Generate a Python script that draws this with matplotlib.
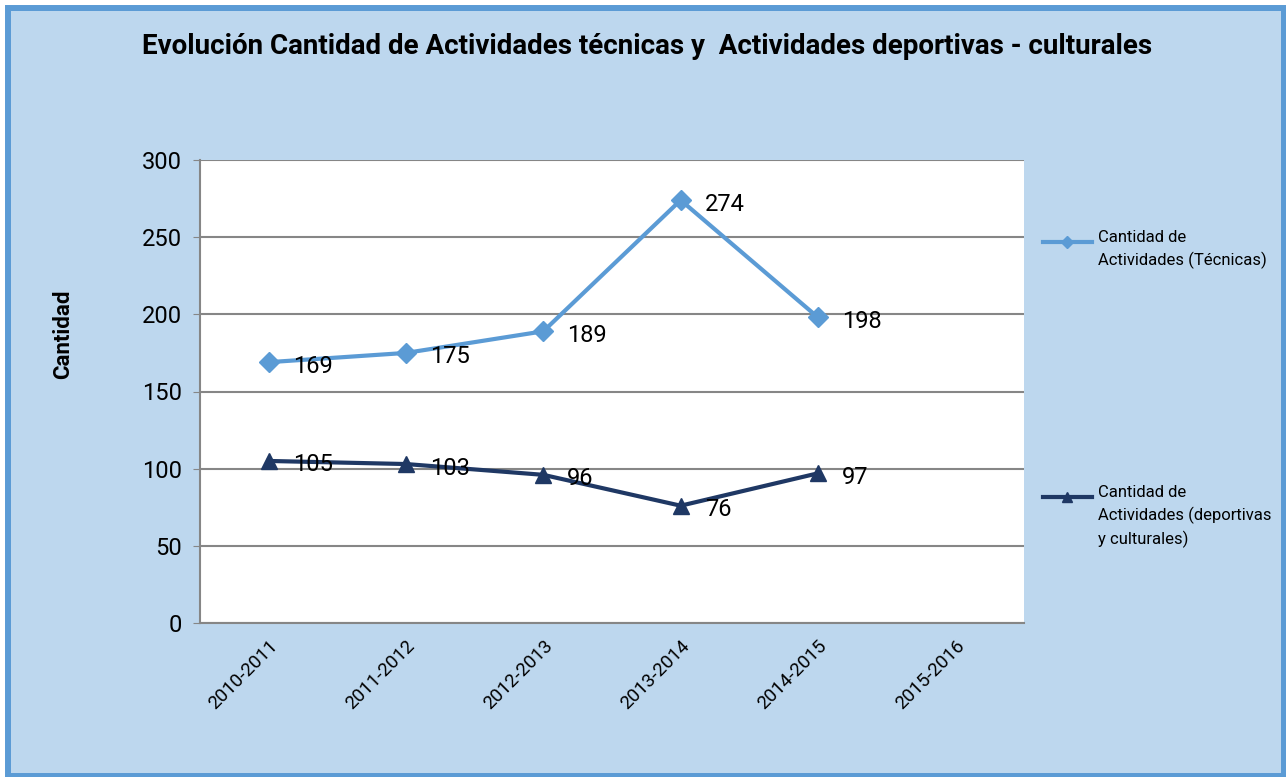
import matplotlib
matplotlib.use("Agg")
import matplotlib.pyplot as plt
from matplotlib import font_manager
from matplotlib.patches import Rectangle
from matplotlib.lines import Line2D
import numpy as np

periods = ["2010-2011", "2011-2012", "2012-2013", "2013-2014", "2014-2015", "2015-2016"]
tecnicas = [169, 175, 189, 274, 198, None]
deportivas = [105, 103, 96, 76, 97, None]
label_tec = "Cantidad de\nActividades (Técnicas)"
label_dep = "Cantidad de\nActividades (deportivas\ny culturales)"
title = "Evolución Cantidad de Actividades técnicas y  Actividades deportivas - culturales"

names = {f.name for f in font_manager.fontManager.ttflist}
narrow = "Liberation Sans Narrow" if "Liberation Sans Narrow" in names else "Roboto"
body = "Roboto"

c_light = "#5B9BD5"
c_dark = "#1F3864"

fig = plt.figure(figsize=(12.86, 7.77), dpi=100)
fig.patch.set_facecolor("white")
W, H = 1286, 777
fig.add_artist(Rectangle((8 / W, 1 / H), 1276 / W, 768 / H, transform=fig.transFigure,
                         facecolor="#BDD7EE", edgecolor=c_light, linewidth=4.3, zorder=0))

ax = fig.add_axes([200 / W, 1 - 623 / H, 824 / W, 463 / H])
ax.set_facecolor("white")

x = np.arange(len(periods))
y1 = np.array([np.nan if v is None else v for v in tecnicas], dtype=float)
y2 = np.array([np.nan if v is None else v for v in deportivas], dtype=float)

ax.plot(x, y1, color=c_light, lw=3, marker="D", ms=10, zorder=3)
ax.plot(x, y2, color=c_dark, lw=3, marker="^", ms=12, zorder=3)

for xs, ys in ((x, y1), (x, y2)):
    for xi, yi in zip(xs, ys):
        if not np.isnan(yi):
            ax.annotate(f"{int(yi)}", (xi, yi), xytext=(24, -4), textcoords="offset pixels",
                        ha="left", va="center", fontsize=17, family=body, color="black", zorder=4)

ax.set_xlim(-0.5, len(periods) - 0.5)
ax.set_ylim(0, 300)
ax.set_yticks(range(0, 301, 50))
ax.set_xticks(x)
ax.set_xticklabels(periods, rotation=45, ha="right", rotation_mode="anchor",
                   fontsize=13.5, family=body)
ax.tick_params(axis="x", length=0, pad=10)
ax.tick_params(axis="y", length=5, color="#868686", labelsize=17, pad=8)
for lab in ax.get_yticklabels():
    lab.set_family(body)
ax.yaxis.grid(True, color="#868686", lw=1.5)
ax.set_axisbelow(True)
for s in ("top", "right"):
    ax.spines[s].set_visible(False)
for s in ("left", "bottom"):
    ax.spines[s].set_color("#868686")
    ax.spines[s].set_linewidth(1.5)

fig.text(63 / W, 1 - 334 / H, "Cantidad", rotation=90, ha="center", va="center",
         fontsize=16, fontweight="bold", family=body)
fig.text(647 / W, 1 - 46 / H, title, ha="center", va="center",
         fontsize=20, fontweight="bold", family=narrow)

# legend drawn by hand to keep the wide gap between the entries
for ly, col, mk, ms, txt in ((242, c_light, "D", 6, label_tec), (497, c_dark, "^", 7, label_dep)):
    fig.add_artist(Line2D([1043 / W, 1092 / W], [1 - ly / H, 1 - ly / H], transform=fig.transFigure,
                          color=col, lw=3))
    fig.add_artist(Line2D([1067 / W], [1 - ly / H], transform=fig.transFigure,
                          color=col, marker=mk, ms=ms, lw=0))
    fig.text(1098 / W, 1 - (ly - 12) / H, txt, ha="left", va="top", fontsize=12,
             family=narrow, linespacing=1.5)

fig.savefig("out.png", dpi=100, facecolor=fig.get_facecolor())
